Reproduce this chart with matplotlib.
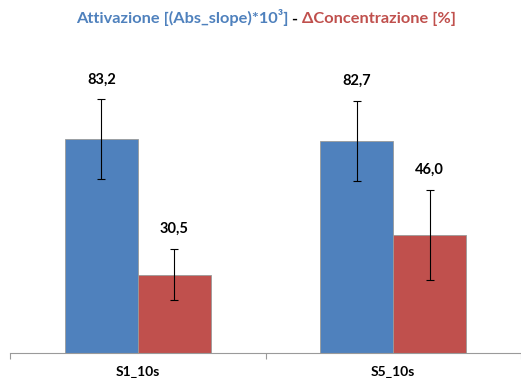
import matplotlib.pyplot as plt
import numpy as np
from matplotlib.offsetbox import TextArea, HPacker, AnchoredOffsetbox

categories = ['S1_10s', 'S5_10s']
attivazione = [83.2, 82.7]
attivazione_err = [15.6, 15.5]
concentrazione = [30.5, 46.0]
concentrazione_err = [10.0, 17.4]

BLUE = '#4F81BD'
RED = '#C0504D'

plt.rcParams['font.family'] = ['Lato', 'DejaVu Sans']

fig = plt.figure(figsize=(5.21, 3.78), dpi=100)
ax = fig.add_axes([10 / 521, 25 / 378, 511 / 521, 308 / 378])

x = np.arange(len(categories))
w = 0.285

ax.bar(x - w / 2, attivazione, w, color=BLUE, edgecolor='#9a9a9a', linewidth=0.6,
       yerr=attivazione_err, error_kw=dict(ecolor='black', elinewidth=0.8, capsize=3, capthick=0.8))
ax.bar(x + w / 2, concentrazione, w, color=RED, edgecolor='#9a9a9a', linewidth=0.6,
       yerr=concentrazione_err, error_kw=dict(ecolor='black', elinewidth=0.8, capsize=3, capthick=0.8))

# value labels above the error bars
for xs, vals, errs in [(x - w / 2, attivazione, attivazione_err), (x + w / 2, concentrazione, concentrazione_err)]:
    for xi, v, e in zip(xs, vals, errs):
        ax.annotate(f"{v:.1f}".replace('.', ','), (xi, v + e), xytext=(0, 20),
                    textcoords='offset pixels', ha='center', va='center',
                    fontsize=10.5, fontweight='bold')

ax.set_xlim(-0.5, 1.5)
ax.set_ylim(0, 120)
ax.set_yticks([])
for s in ['top', 'right', 'left']:
    ax.spines[s].set_visible(False)
ax.spines['bottom'].set_color('#9a9a9a')
ax.set_xticks([-0.5, 0.5, 1.5], minor=False)
ax.set_xticklabels([])
ax.tick_params(axis='x', length=4, color='#9a9a9a')
ax.set_xticks(x, minor=True)
ax.set_xticklabels(categories, minor=True, fontsize=10, fontweight='bold')
ax.tick_params(axis='x', which='minor', length=0, pad=9.5)

# two-colour title
parts = [('Attivazione [(Abs_slope)*10³]', BLUE), (' - ', 'black'), ('ΔConcentrazione [%]', RED)]
areas = [TextArea(t, textprops=dict(color=c, fontsize=11.8, fontweight='bold')) for t, c in parts]
box = HPacker(children=areas, align='baseline', pad=0, sep=0)
anch = AnchoredOffsetbox(loc='center', child=box, frameon=False,
                         bbox_to_anchor=(266 / 521, 1 - 18 / 378), bbox_transform=fig.transFigure,
                         borderpad=0, pad=0)
fig.add_artist(anch)

fig.savefig('out.png', dpi=100)
